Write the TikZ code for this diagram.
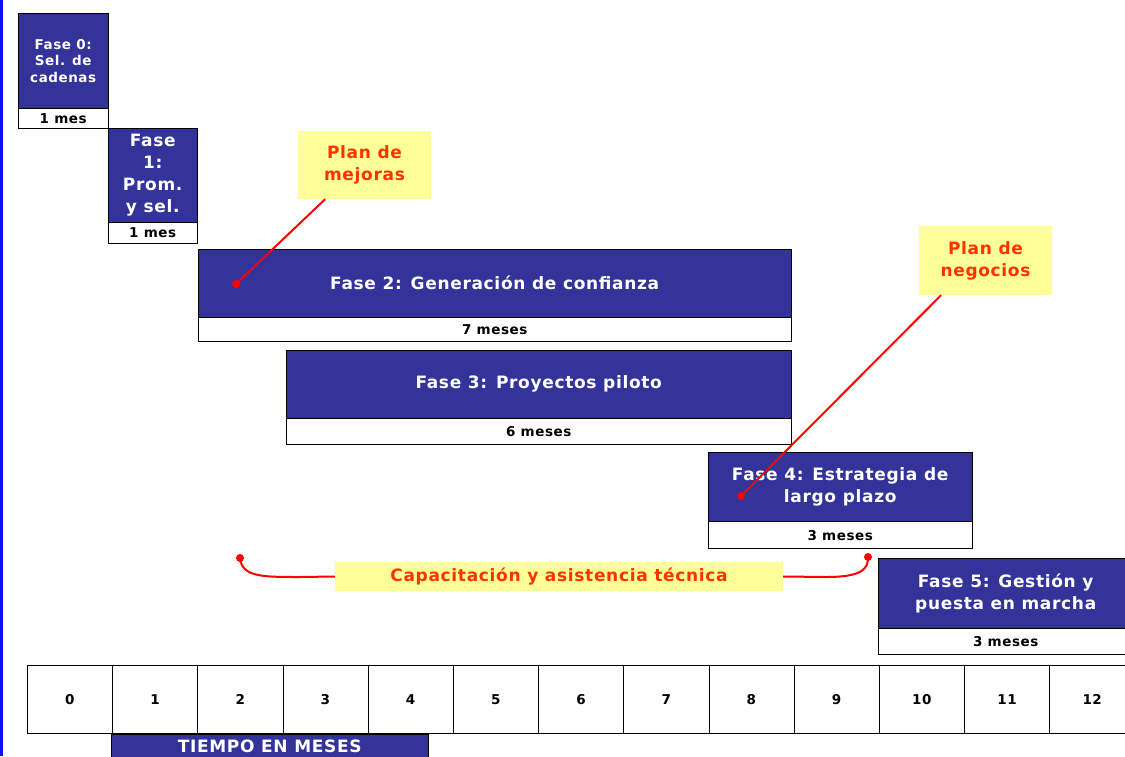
\documentclass[tikz,border=0pt]{standalone}
\usepackage{fontspec}
\setmainfont{DejaVu Sans}[LetterSpace=4]
\usetikzlibrary{positioning}
\definecolor{faseblue}{HTML}{333399}
\definecolor{notayellow}{HTML}{FFFF99}
\definecolor{notared}{HTML}{FF3300}
\definecolor{bordeblue}{HTML}{1010FF}
\newcommand{\tam}[2]{\fontsize{#1}{#2}\selectfont}

\tikzset{
	fase/.style={draw=black, fill=faseblue, text=white, font=\bfseries\tam{17}{22}, align=center, inner sep=0pt, anchor=north west},
	plazo/.style={draw=black, fill=white, font=\bfseries\tam{13.5}{15}, inner sep=0pt},
	nota/.style={fill=notayellow, text=notared, font=\bfseries\tam{17}{22}, align=center, inner sep=0pt},
	celda/.style={draw=black, minimum width=85.2pt, minimum height=68pt, inner sep=0pt, font=\bfseries\tam{13.5}{15}, anchor=north west},
	callout/.style={red, line width=2pt},
	punto/.style={circle, fill=red, inner sep=0pt, minimum size=8pt}
}

\begin{document}
\begin{tikzpicture}[x=1pt,y=-1pt]
	\useasboundingbox (0,0) rectangle (1125,756);
	\clip (0,0) rectangle (1125,756);
	\fill[bordeblue] (0,0) rectangle (2.5,756);
	
	% fases
	\node[fase, minimum width=90pt, minimum height=95pt, font=\bfseries\tam{13.5}{16.5}] (f0) at (18,13) {Fase 0:\\Sel. de\\cadenas};
	\node[plazo, minimum width=90pt, minimum height=20pt, below right=0pt of f0.south west] (t0) {1 mes};
	\node[fase, minimum width=89pt, minimum height=94pt] (f1) at (108,128) {Fase\\1:\\Prom.\\y sel.};
	\node[plazo, minimum width=89pt, minimum height=21pt, below right=0pt of f1.south west] (t1) {1 mes};
	\node[fase, minimum width=593pt, minimum height=68pt] (f2) at (198,249) {Fase 2: Generación de confianza};
	\node[plazo, minimum width=593pt, minimum height=24pt, below right=0pt of f2.south west] (t2) {7 meses};
	\node[fase, minimum width=505pt, minimum height=68pt] (f3) at (286,350) {Fase 3: Proyectos piloto};
	\node[plazo, minimum width=505pt, minimum height=26pt, below right=0pt of f3.south west] (t3) {6 meses};
	\node[fase, minimum width=264pt, minimum height=69pt] (f4) at (708,452) {Fase 4: Estrategia de\\largo plazo};
	\node[plazo, minimum width=264pt, minimum height=27pt, below right=0pt of f4.south west] (t4) {3 meses};
	\node[fase, minimum width=255pt, minimum height=70pt] (f5) at (878,558) {Fase 5: Gestión y\\puesta en marcha};
	\node[plazo, minimum width=255pt, minimum height=26pt, below right=0pt of f5.south west] (t5) {3 meses};
	
	% escala de tiempo
	\foreach \m in {0,...,12}
		\node[celda] (m\m) at ({27+85.2*\m},665) {\m};
	\node[fase, minimum width=317pt, minimum height=24pt] (tiempo) at (111,734) {TIEMPO EN MESES};
	
	% notas
	\node[nota, minimum width=133pt, minimum height=68pt] (mejoras) at (364.5,165) {Plan de\\mejoras};
	\node[nota, minimum width=133pt, minimum height=69pt] (negocios) at (985.5,260.5) {Plan de\\negocios};
	\node[nota, minimum width=448pt, minimum height=29pt] (capac) at (559,576.5) {Capacitación y asistencia técnica};
	
	\node[punto] (pA) at (236,284) {};
	\node[punto] (pB) at (741,496) {};
	\node[punto] (pL) at (240,558) {};
	\node[punto] (pR) at (868,557) {};
	
	\draw[callout] (pA.center) -- (mejoras.221);
	\draw[callout] (pB.center) -- (negocios.218);
	\draw[callout] (pL.center) .. controls (242,577) and (262,577) .. (300,577) -- (capac.west);
	\draw[callout] (capac.east) -- (826,577) .. controls (864,577) and (868,568) .. (pR.center);
\end{tikzpicture}
\end{document}
